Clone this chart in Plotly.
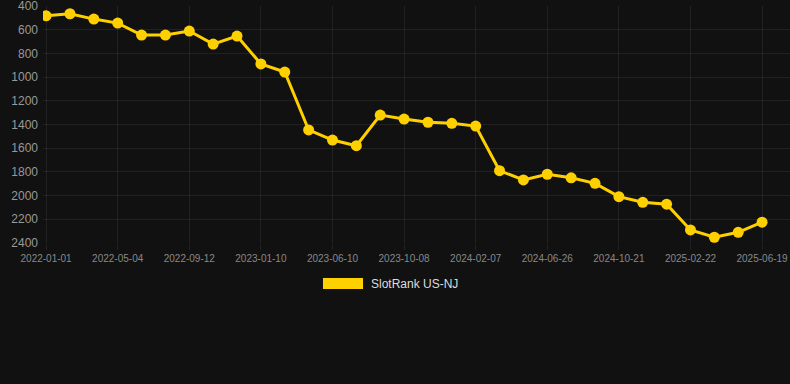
import plotly.graph_objects as go

dates = [
    "2022-01-01", "2022-02-11", "2022-03-24", "2022-05-04", "2022-06-17", "2022-07-30",
    "2022-09-12", "2022-10-22", "2022-12-01", "2023-01-10", "2023-03-01", "2023-04-20",
    "2023-06-10", "2023-07-20", "2023-08-29", "2023-10-08", "2023-11-17", "2023-12-28",
    "2024-02-07", "2024-03-24", "2024-05-10", "2024-06-26", "2024-08-04", "2024-09-12",
    "2024-10-21", "2024-12-02", "2025-01-12", "2025-02-22", "2025-04-01", "2025-05-10",
    "2025-06-19",
]
ranks = [
    482, 465, 510, 544, 645, 645, 611, 721, 653, 889, 957, 1446, 1531, 1579, 1320,
    1354, 1381, 1390, 1413, 1790, 1868, 1820, 1850, 1897, 2009, 2057, 2073, 2290,
    2352, 2310, 2225,
]
tick_dates = dates[::3]
y_ticks = [400, 600, 800, 1000, 1200, 1400, 1600, 1800, 2000, 2200, 2400]
series_name = "SlotRank US-NJ"

gold = "#FFD000"
bg = "#111111"
grid = "rgba(255,255,255,0.07)"

fig = go.Figure()
fig.add_trace(go.Scatter(
    x=dates, y=ranks, mode="lines+markers", name=series_name,
    line=dict(color=gold, width=3),
    marker=dict(color=gold, size=11),
    showlegend=False,
    hoverinfo="x+y",
))

fig.update_layout(
    width=790, height=384,
    paper_bgcolor=bg, plot_bgcolor=bg,
    margin=dict(l=43, r=0, t=6, b=141),
    font=dict(family="Liberation Sans, Arial, sans-serif", color="#888888"),
    xaxis=dict(
        type="category", categoryorder="array", categoryarray=dates,
        tickmode="array", tickvals=tick_dates, ticktext=tick_dates,
        tickangle=0, tickfont=dict(size=10, color="#888888"),
        showgrid=True, gridcolor=grid, gridwidth=1,
        zeroline=False, showline=False,
        range=[-0.13, 31.17],
        ticks="outside", ticklen=6, tickcolor=grid,
        ticklabeloverflow="allow",
    ),
    yaxis=dict(
        range=[2400.5, 399.5], tickmode="array", tickvals=y_ticks,
        tickfont=dict(size=12, color="#999999"),
        showgrid=True, gridcolor=grid, gridwidth=1,
        zeroline=False, showline=False,
        ticklabelstandoff=4,
        ticklabeloverflow="allow",
    ),
    shapes=[dict(
        type="rect", xref="paper", yref="paper",
        x0=0.3748, x1=0.4284, y0=-0.194, y1=-0.1477,
        fillcolor=gold, line=dict(width=0),
    )],
    annotations=[dict(
        text=series_name, xref="paper", yref="paper",
        x=0.4364, y=-0.173, xanchor="left", yanchor="middle",
        showarrow=False, font=dict(size=12, color="#DDDDDD"),
    )],
)

fig.write_html(
    "out.html",
    config={"displayModeBar": False},
    post_script="document.body.style.margin='0';document.body.style.background='#111111';",
)
